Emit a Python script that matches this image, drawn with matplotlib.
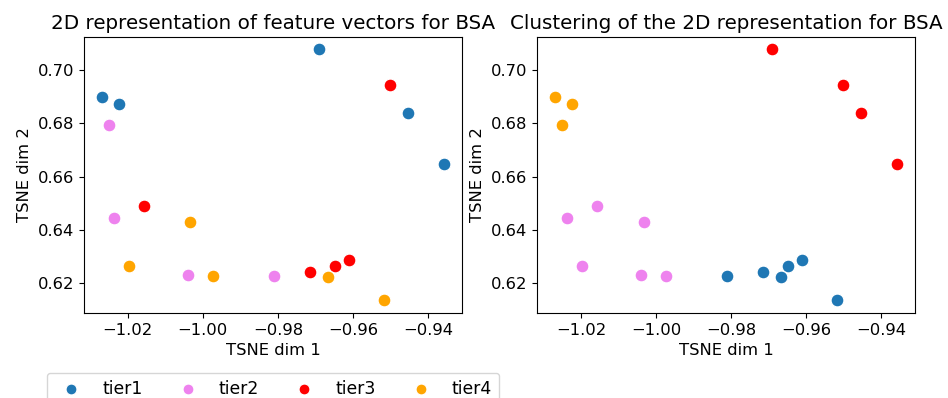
import numpy as np
import matplotlib
matplotlib.use("Agg")
import matplotlib.pyplot as plt

# t-SNE coordinates of the 19 samples
tsne_x = [-0.9690, -1.0270, -1.0223, -0.9452, -0.9357,
          -1.0251, -1.0236, -1.0039, -0.9810,
          -1.0156, -0.9500, -0.9715, -0.9647, -0.9611,
          -1.0033, -1.0198, -0.9973, -0.9667, -0.9516]
tsne_y = [0.7078, 0.6899, 0.6871, 0.6838, 0.6648,
          0.6793, 0.6445, 0.6233, 0.6228,
          0.6490, 0.6944, 0.6244, 0.6266, 0.6289,
          0.6429, 0.6266, 0.6228, 0.6223, 0.6138]

# true tier of each sample and the cluster assigned to it
true_tier = [1, 1, 1, 1, 1,
             2, 2, 2, 2,
             3, 3, 3, 3, 3,
             4, 4, 4, 4, 4]
cluster = [3, 4, 4, 3, 3,
           4, 2, 2, 1,
           2, 3, 1, 1, 1,
           2, 2, 2, 1, 1]

tier_names = ["tier1", "tier2", "tier3", "tier4"]
tier_colors = ["#1f77b4", "violet", "red", "orange"]

plt.rcParams["font.size"] = 11.8

fig = plt.figure(figsize=(9.48, 3.98), dpi=100)
ax1 = fig.add_axes([0.0886, 0.2136, 0.3987, 0.6935])
ax2 = fig.add_axes([0.5665, 0.2136, 0.3987, 0.6935])

x = np.array(tsne_x)
y = np.array(tsne_y)

for ax, labels, title in [
    (ax1, np.array(true_tier), "2D representation of feature vectors for BSA"),
    (ax2, np.array(cluster), "Clustering of the 2D representation for BSA"),
]:
    for k, (name, col) in enumerate(zip(tier_names, tier_colors), start=1):
        m = labels == k
        ax.scatter(x[m], y[m], s=85, color=col, edgecolor="white",
                   linewidth=0.8, label=name)
    ax.set_title(title, fontsize=14.3)
    ax.set_xlabel("TSNE dim 1")
    ax.set_ylabel("TSNE dim 2")
    ax.set_xlim(-1.0317, -0.9309)
    ax.set_ylim(0.6089, 0.7124)
    ax.set_xticks([-1.02, -1.00, -0.98, -0.96, -0.94])
    ax.set_yticks([0.62, 0.64, 0.66, 0.68, 0.70])

ax1.legend(loc="upper left", ncol=4, mode="expand", scatterpoints=1,
           fontsize=12.4, markerscale=0.85,
           bbox_to_anchor=(0.0496, 0.0, 0.4768, 0.0628),
           bbox_transform=fig.transFigure, borderaxespad=0)

fig.savefig("out.png", dpi=100)
